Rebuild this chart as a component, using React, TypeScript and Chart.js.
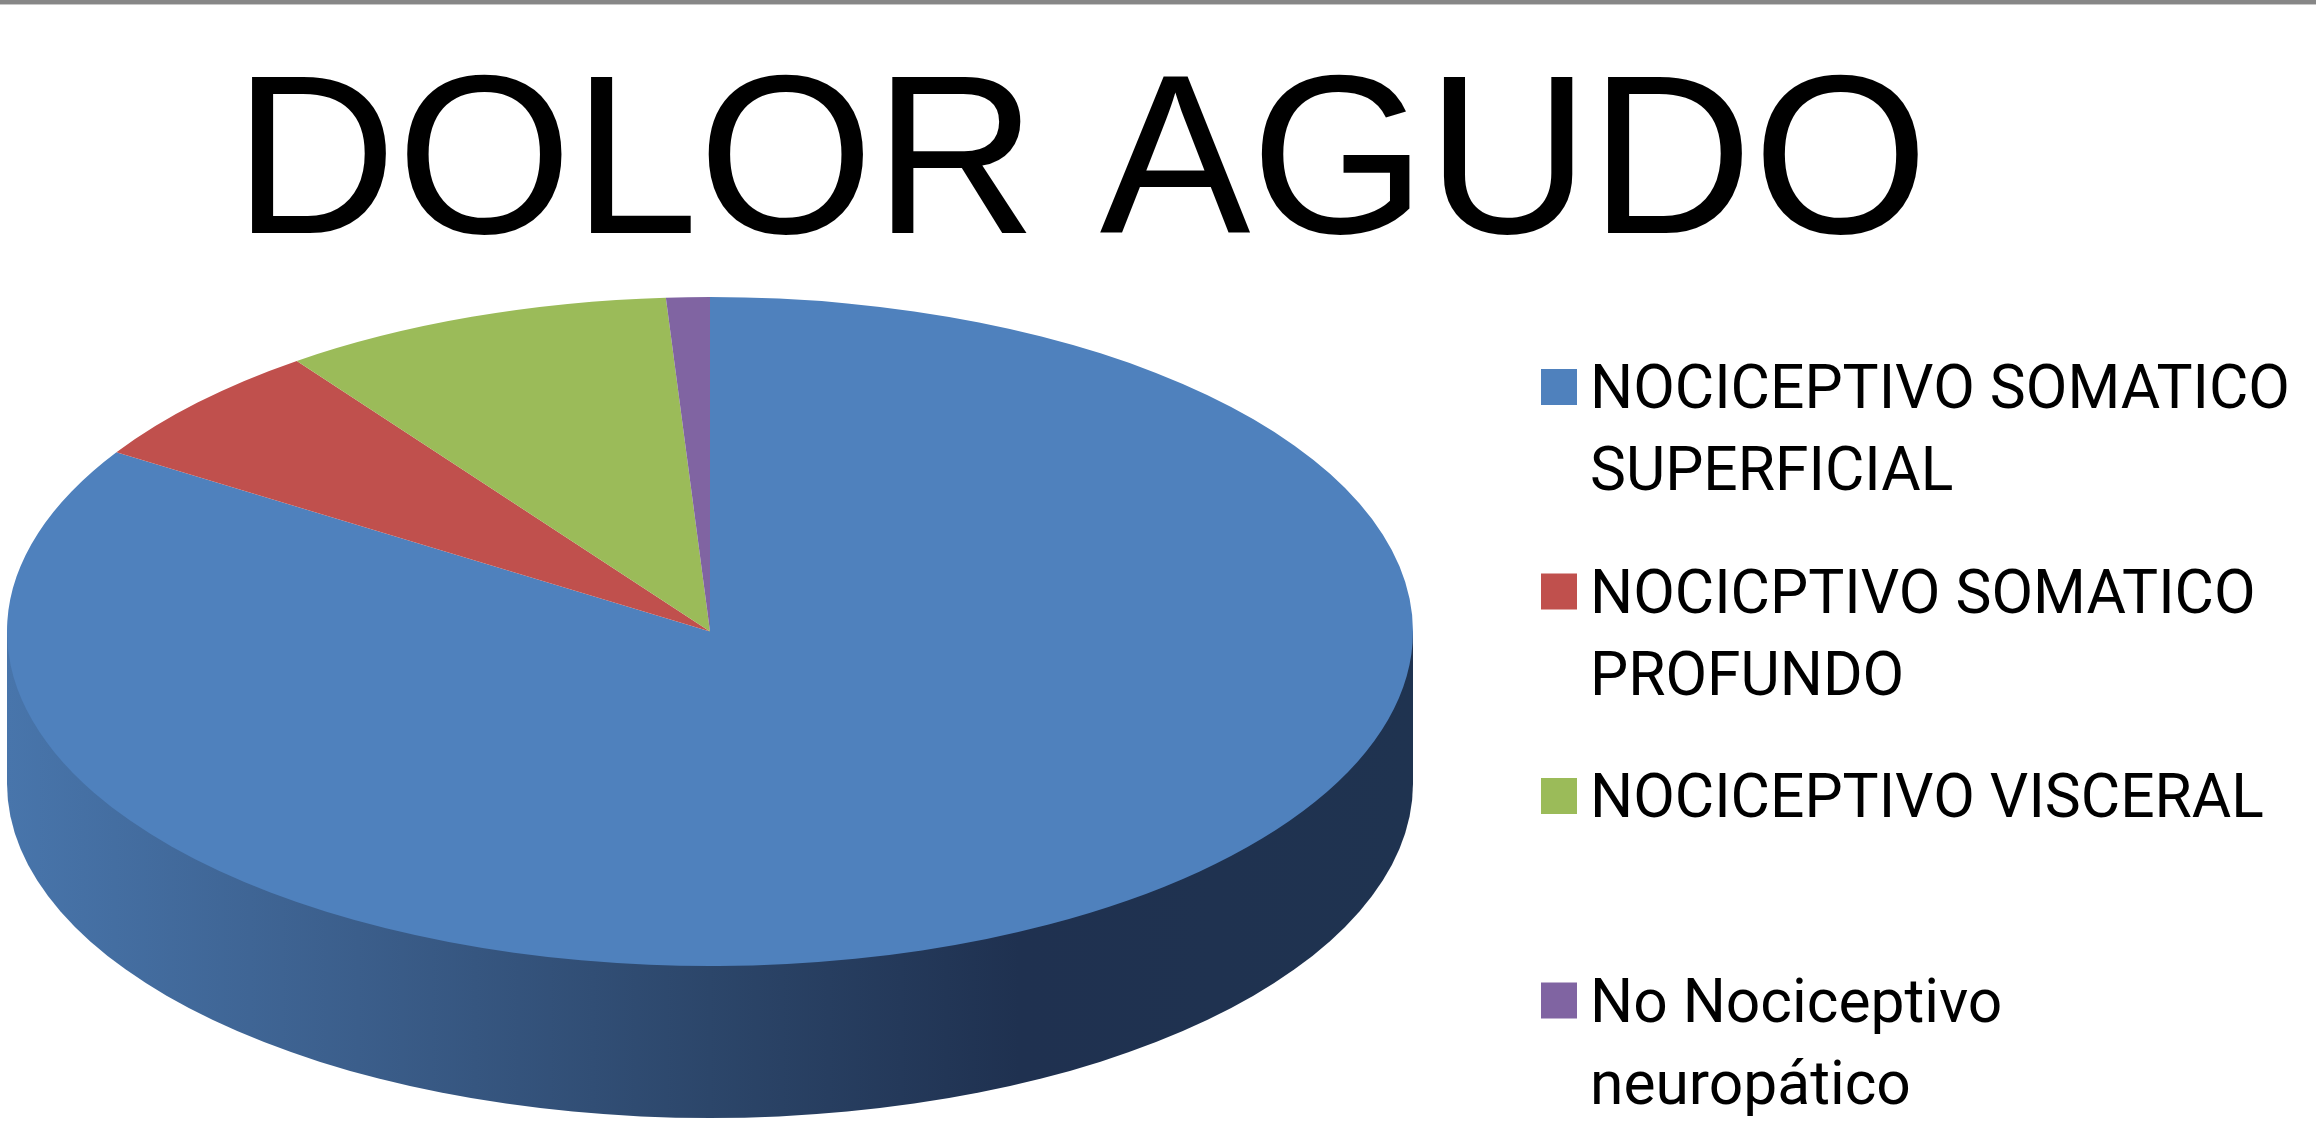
import React, { useEffect, useRef } from "react";
import { Chart, registerables } from "chart.js";

Chart.register(...registerables);

// ---- data ----
const categories: string[][] = [
  ["NOCICEPTIVO SOMATICO", "SUPERFICIAL"],
  ["NOCICPTIVO SOMATICO", "PROFUNDO"],
  ["NOCICEPTIVO VISCERAL"],
  ["No Nociceptivo", "neuropático"],
];
const values: number[] = [84, 6, 9, 1];
const sliceColors: string[] = ["#4f81bd", "#c0504d", "#9bbb59", "#8064a2"];
const titleText = "DOLOR AGUDO";

// 3D look: side band under the tilted pie
const pie3dPlugin = {
  id: "pie3d",
  beforeDatasetsDraw(chart: any, _args: any, opts: any) {
    const arc = chart.getDatasetMeta(0).data[0];
    if (!arc) return;
    const { ctx, chartArea } = chart;
    const cx = arc.x;
    const cy = arc.y;
    const r = arc.outerRadius;
    const rx = (chartArea.right - chartArea.left) / 2;
    const ry = r;
    const depth = opts.depth;
    ctx.save();
    const g = ctx.createLinearGradient(cx - rx, 0, cx + rx, 0);
    (opts.sideStops as [number, string][]).forEach(([o, c]) => g.addColorStop(o, c));
    ctx.fillStyle = g;
    ctx.beginPath();
    ctx.moveTo(cx - rx, cy);
    ctx.lineTo(cx + rx, cy);
    ctx.lineTo(cx + rx, cy + depth);
    ctx.ellipse(cx, cy + depth, rx, ry, 0, 0, Math.PI, false);
    ctx.closePath();
    ctx.fill();
    ctx.restore();
    // stretch the top face into an ellipse
    ctx.save();
    ctx.translate(cx, cy);
    ctx.scale(rx / r, 1);
    ctx.translate(-cx, -cy);
  },
  afterDatasetsDraw(chart: any) {
    chart.ctx.restore();
  },
};

// Move the title's box so it is centred where the reference places it
const titleShiftPlugin = {
  id: "titleShift",
  afterLayout(chart: any, _args: any, opts: any) {
    const t = chart.titleBlock;
    if (!t) return;
    t.left = opts.left;
    t.right = opts.right;
  },
};

// Legend on the right with equal slots per entry (Excel-like)
const sideLegendPlugin = {
  id: "sideLegend",
  afterDraw(chart: any, _args: any, opts: any) {
    const { ctx } = chart;
    const labels = chart.data.labels as string[][];
    const meta = chart.getDatasetMeta(0);
    ctx.save();
    ctx.font = `${opts.fontSize}px ${opts.fontFamily}`;
    ctx.textBaseline = "alphabetic";
    ctx.textAlign = "left";
    labels.forEach((lab, i) => {
      const style = meta.controller.getStyle(i);
      const base = opts.firstBaseline + i * opts.itemSpacing;
      ctx.fillStyle = style.backgroundColor;
      ctx.fillRect(opts.boxX, base - opts.boxRise, opts.boxSize, opts.boxSize);
      ctx.fillStyle = opts.color;
      const lines = Array.isArray(lab) ? lab : [lab];
      lines.forEach((ln, j) => ctx.fillText(ln, opts.textX, base + j * opts.lineSpacing));
    });
    ctx.restore();
  },
};

export default function App() {
  const ref = useRef<HTMLCanvasElement | null>(null);

  useEffect(() => {
    document.body.style.margin = "0";
    document.body.style.overflow = "hidden";
    if (!ref.current) return;
    const chart = new Chart(ref.current, {
      type: "pie",
      data: {
        labels: categories as any,
        datasets: [
          {
            data: values,
            backgroundColor: sliceColors,
            borderWidth: 0,
            clip: false as any,
          },
        ],
      },
      options: {
        responsive: false,
        animation: false,
        events: [],
        layout: { padding: { left: 7, right: 903, top: 0, bottom: 158 } },
        plugins: {
          legend: { display: false },
          tooltip: { enabled: false },
          title: {
            display: true,
            text: titleText,
            color: "#000000",
            font: { family: "'Liberation Sans', Arial, sans-serif", size: 226, weight: "normal", lineHeight: 1 },
            padding: { top: 58, bottom: 13 },
          },
          pie3d: {
            depth: 152,
            sideStops: [
              [0, "#4875ab"],
              [0.25, "#3b5e8b"],
              [0.5, "#2c466a"],
              [0.72, "#1f3150"],
              [1, "#1f3350"],
            ],
          },
          titleShift: { left: 0, right: 2162 },
          sideLegend: {
            fontFamily: "Roboto, 'Noto Sans', sans-serif",
            fontSize: 60.5,
            color: "#000000",
            boxX: 1541,
            boxSize: 36,
            boxRise: 39,
            textX: 1590,
            firstBaseline: 408,
            itemSpacing: 204.5,
            lineSpacing: 82,
          },
        } as any,
      },
      plugins: [pie3dPlugin, titleShiftPlugin, sideLegendPlugin],
    });
    return () => chart.destroy();
  }, []);

  return (
    <div style={{ position: "relative", width: 2316, height: 1124, background: "#ffffff" }}>
      <canvas ref={ref} width={2316} height={1124} style={{ position: "absolute", left: 0, top: 0, width: 2316, height: 1124 }} />
      <div style={{ position: "absolute", left: 0, top: 0, width: 2316, height: 4, background: "#878787", borderBottom: "1px solid #c8c8c8" }} />
    </div>
  );
}
